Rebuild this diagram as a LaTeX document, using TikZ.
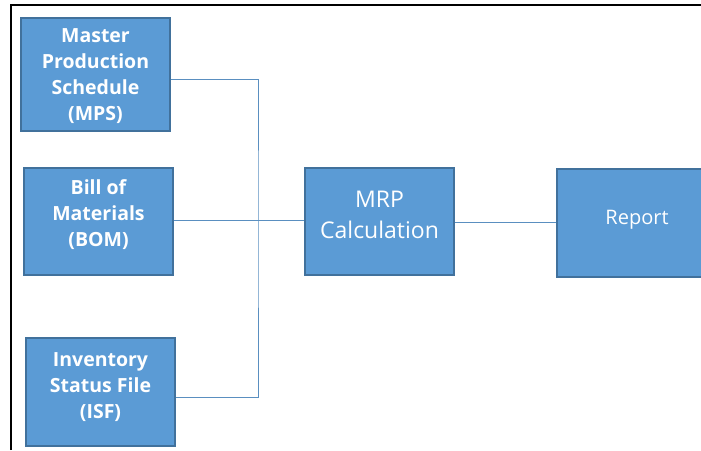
\documentclass[tikz,border=0pt]{standalone}
\usepackage{fontspec}
\setmainfont{Open Sans}
\begin{document}
\begin{tikzpicture}[x=1pt,y=-1pt,
  box/.style={draw=boxedge, fill=boxfill, line width=1.2pt, inner sep=0pt},
  lbl/.style={text=white, align=center, inner sep=0pt},
  small/.style={font=\fontsize{19.5}{26}\selectfont\bfseries},
  link/.style={draw=linkcol, line width=0.9pt}]
\definecolor{boxfill}{HTML}{5B9BD5}
\definecolor{boxedge}{HTML}{41719C}
\definecolor{linkcol}{HTML}{5A8FC0}
\useasboundingbox (0,0) rectangle (701,450);
% outer frame (top and left edges)
\draw[line width=2pt, black] (11,450) -- (11,5) -- (701,5);
% source boxes
\node[box, minimum width=149pt, minimum height=113pt] (mps) at (95.5,74.5) {};
\node[box, minimum width=149pt, minimum height=107pt] (bom) at (98.5,221.5) {};
\node[box, minimum width=149pt, minimum height=108pt] (isf) at (100.5,392) {};
% processing and output
\node[box, minimum width=149pt, minimum height=107pt] (mrp) at (379.5,221.5) {};
\node[box, minimum width=160pt, minimum height=108pt] (rep) at (637,223) {};
% box captions
\node[lbl, small] (mpst) at ([yshift=-1.5pt]mps.center) {Master\\Production\\Schedule\\(MPS)};
\node[lbl, small] (bomt) at ([yshift=6.5pt]bom.center) {Bill of\\Materials\\(BOM)};
\node[lbl, small] (isft) at ([yshift=4.5pt]isf.center) {Inventory\\Status File\\(ISF)};
\node[lbl, font=\fontsize{23}{31}\selectfont] (mrpt) at ([yshift=6.5pt]mrp.center) {MRP\\Calculation};
\node[lbl, font=\fontsize{20}{24}\selectfont] (rept) at ([yshift=3pt]rep.center) {Report};
% connectors
\coordinate (j) at (258,220);
\draw[link] (mps.east |- 0,79) -| (j) |- (isf.east |- 0,397);
\draw[link] (bom.east |- 0,220) -- (mrp.west |- 0,220);
\draw[link] (mrp.east |- 0,222) -- (rep.west |- 0,222);
\end{tikzpicture}
\end{document}
